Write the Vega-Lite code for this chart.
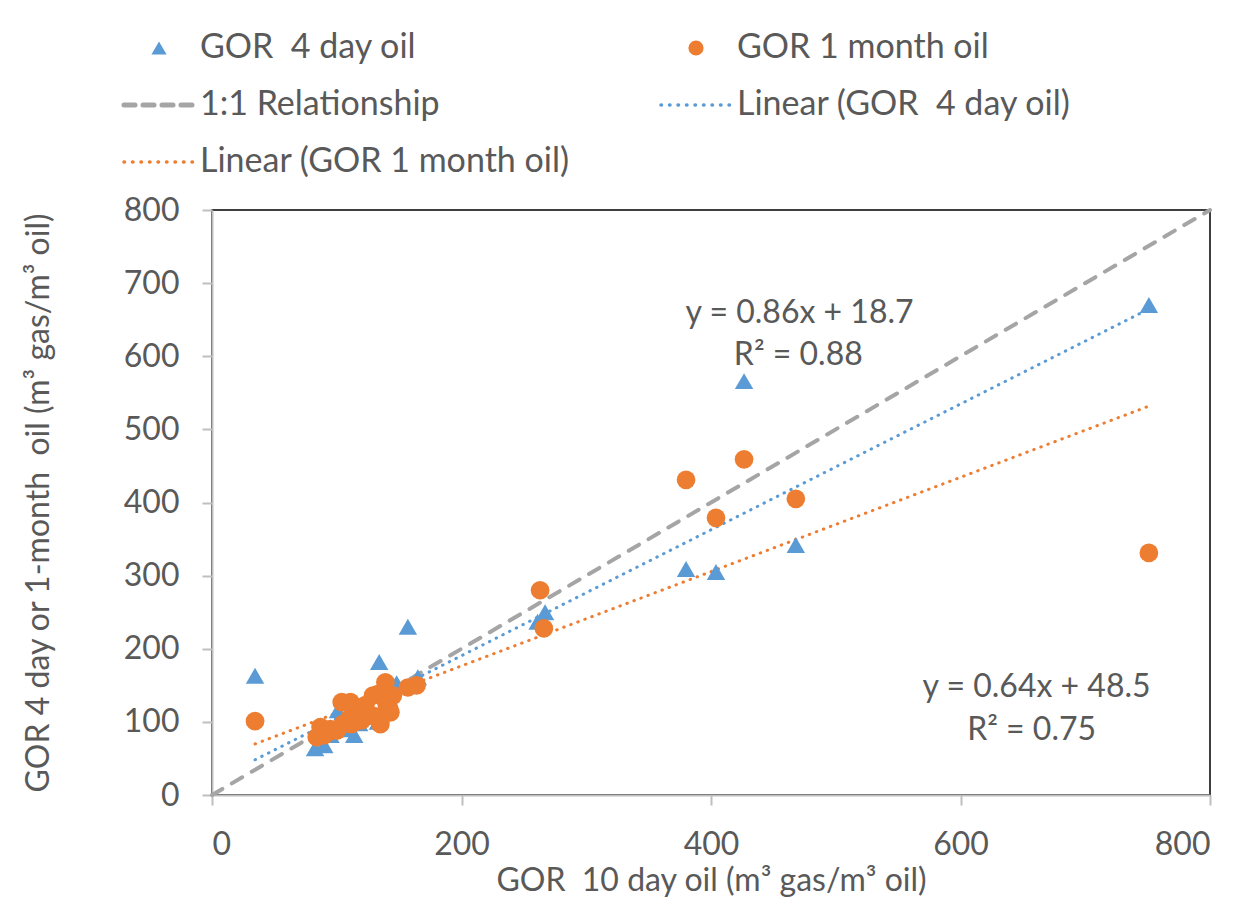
{
  "$schema": "https://vega.github.io/schema/vega-lite/v6.json",
  "width": 998,
  "height": 585,
  "autosize": {"type": "none"},
  "padding": {"left": 212, "top": 210, "right": 42, "bottom": 112},
  "background": "white",
  "config": {
    "font": "Lato",
    "view": {"stroke": "#000000", "strokeWidth": 1.5},
    "axis": {
      "domainColor": "#BFBFBF", "domainWidth": 2,
      "tickColor": "#BFBFBF", "tickWidth": 2, "tickSize": 10,
      "labelColor": "#595959", "labelFontSize": 32, "labelFont": "Lato",
      "titleColor": "#595959", "titleFontSize": 32, "titleFont": "Lato", "titleFontWeight": "normal",
      "grid": false
    }
  },
  "datasets": {
    "pts": [
      {"x": 34.5, "y": 163, "series": "GOR\u00a0 4 day oil", "fit": "Linear (GOR\u00a0 4 day oil)"},
      {"x": 426.5, "y": 566, "series": "GOR\u00a0 4 day oil", "fit": "Linear (GOR\u00a0 4 day oil)"},
      {"x": 751, "y": 670, "series": "GOR\u00a0 4 day oil", "fit": "Linear (GOR\u00a0 4 day oil)"},
      {"x": 380, "y": 309, "series": "GOR\u00a0 4 day oil", "fit": "Linear (GOR\u00a0 4 day oil)"},
      {"x": 404, "y": 305, "series": "GOR\u00a0 4 day oil", "fit": "Linear (GOR\u00a0 4 day oil)"},
      {"x": 468, "y": 342, "series": "GOR\u00a0 4 day oil", "fit": "Linear (GOR\u00a0 4 day oil)"},
      {"x": 267, "y": 250, "series": "GOR\u00a0 4 day oil", "fit": "Linear (GOR\u00a0 4 day oil)"},
      {"x": 261, "y": 237, "series": "GOR\u00a0 4 day oil", "fit": "Linear (GOR\u00a0 4 day oil)"},
      {"x": 157, "y": 230, "series": "GOR\u00a0 4 day oil", "fit": "Linear (GOR\u00a0 4 day oil)"},
      {"x": 134, "y": 182, "series": "GOR\u00a0 4 day oil", "fit": "Linear (GOR\u00a0 4 day oil)"},
      {"x": 165, "y": 161, "series": "GOR\u00a0 4 day oil", "fit": "Linear (GOR\u00a0 4 day oil)"},
      {"x": 82.6, "y": 64, "series": "GOR\u00a0 4 day oil", "fit": "Linear (GOR\u00a0 4 day oil)"},
      {"x": 90, "y": 68, "series": "GOR\u00a0 4 day oil", "fit": "Linear (GOR\u00a0 4 day oil)"},
      {"x": 114, "y": 82, "series": "GOR\u00a0 4 day oil", "fit": "Linear (GOR\u00a0 4 day oil)"},
      {"x": 135, "y": 109, "series": "GOR\u00a0 4 day oil", "fit": "Linear (GOR\u00a0 4 day oil)"},
      {"x": 101, "y": 116, "series": "GOR\u00a0 4 day oil", "fit": "Linear (GOR\u00a0 4 day oil)"},
      {"x": 145, "y": 150, "series": "GOR\u00a0 4 day oil", "fit": "Linear (GOR\u00a0 4 day oil)"},
      {"x": 87, "y": 89, "series": "GOR\u00a0 4 day oil", "fit": "Linear (GOR\u00a0 4 day oil)"},
      {"x": 148, "y": 153, "series": "GOR\u00a0 4 day oil", "fit": "Linear (GOR\u00a0 4 day oil)"},
      {"x": 133, "y": 100, "series": "GOR\u00a0 4 day oil", "fit": "Linear (GOR\u00a0 4 day oil)"},
      {"x": 105, "y": 96, "series": "GOR\u00a0 4 day oil", "fit": "Linear (GOR\u00a0 4 day oil)"},
      {"x": 120, "y": 118, "series": "GOR\u00a0 4 day oil", "fit": "Linear (GOR\u00a0 4 day oil)"},
      {"x": 95, "y": 82, "series": "GOR\u00a0 4 day oil", "fit": "Linear (GOR\u00a0 4 day oil)"},
      {"x": 108, "y": 90, "series": "GOR\u00a0 4 day oil", "fit": "Linear (GOR\u00a0 4 day oil)"},
      {"x": 118, "y": 98, "series": "GOR\u00a0 4 day oil", "fit": "Linear (GOR\u00a0 4 day oil)"},
      {"x": 125, "y": 107, "series": "GOR\u00a0 4 day oil", "fit": "Linear (GOR\u00a0 4 day oil)"},
      {"x": 110, "y": 92, "series": "GOR\u00a0 4 day oil", "fit": "Linear (GOR\u00a0 4 day oil)"},
      {"x": 34.5, "y": 101, "series": "GOR 1 month oil", "fit": "Linear (GOR 1 month oil)"},
      {"x": 380, "y": 431, "series": "GOR 1 month oil", "fit": "Linear (GOR 1 month oil)"},
      {"x": 426.5, "y": 459, "series": "GOR 1 month oil", "fit": "Linear (GOR 1 month oil)"},
      {"x": 404, "y": 379, "series": "GOR 1 month oil", "fit": "Linear (GOR 1 month oil)"},
      {"x": 468, "y": 405, "series": "GOR 1 month oil", "fit": "Linear (GOR 1 month oil)"},
      {"x": 751, "y": 331, "series": "GOR 1 month oil", "fit": "Linear (GOR 1 month oil)"},
      {"x": 263, "y": 280, "series": "GOR 1 month oil", "fit": "Linear (GOR 1 month oil)"},
      {"x": 266, "y": 228, "series": "GOR 1 month oil", "fit": "Linear (GOR 1 month oil)"},
      {"x": 84, "y": 79, "series": "GOR 1 month oil", "fit": "Linear (GOR 1 month oil)"},
      {"x": 87, "y": 93, "series": "GOR 1 month oil", "fit": "Linear (GOR 1 month oil)"},
      {"x": 95, "y": 90, "series": "GOR 1 month oil", "fit": "Linear (GOR 1 month oil)"},
      {"x": 104, "y": 127, "series": "GOR 1 month oil", "fit": "Linear (GOR 1 month oil)"},
      {"x": 111, "y": 127, "series": "GOR 1 month oil", "fit": "Linear (GOR 1 month oil)"},
      {"x": 105, "y": 97, "series": "GOR 1 month oil", "fit": "Linear (GOR 1 month oil)"},
      {"x": 123, "y": 123, "series": "GOR 1 month oil", "fit": "Linear (GOR 1 month oil)"},
      {"x": 129, "y": 136, "series": "GOR 1 month oil", "fit": "Linear (GOR 1 month oil)"},
      {"x": 133, "y": 138, "series": "GOR 1 month oil", "fit": "Linear (GOR 1 month oil)"},
      {"x": 139, "y": 154, "series": "GOR 1 month oil", "fit": "Linear (GOR 1 month oil)"},
      {"x": 135, "y": 97, "series": "GOR 1 month oil", "fit": "Linear (GOR 1 month oil)"},
      {"x": 143, "y": 113, "series": "GOR 1 month oil", "fit": "Linear (GOR 1 month oil)"},
      {"x": 140, "y": 124, "series": "GOR 1 month oil", "fit": "Linear (GOR 1 month oil)"},
      {"x": 157, "y": 147, "series": "GOR 1 month oil", "fit": "Linear (GOR 1 month oil)"},
      {"x": 164, "y": 150, "series": "GOR 1 month oil", "fit": "Linear (GOR 1 month oil)"},
      {"x": 145, "y": 136, "series": "GOR 1 month oil", "fit": "Linear (GOR 1 month oil)"},
      {"x": 116, "y": 109, "series": "GOR 1 month oil", "fit": "Linear (GOR 1 month oil)"},
      {"x": 92, "y": 85, "series": "GOR 1 month oil", "fit": "Linear (GOR 1 month oil)"},
      {"x": 110, "y": 104, "series": "GOR 1 month oil", "fit": "Linear (GOR 1 month oil)"},
      {"x": 90, "y": 82, "series": "GOR 1 month oil", "fit": "Linear (GOR 1 month oil)"},
      {"x": 100, "y": 88, "series": "GOR 1 month oil", "fit": "Linear (GOR 1 month oil)"},
      {"x": 112, "y": 97, "series": "GOR 1 month oil", "fit": "Linear (GOR 1 month oil)"},
      {"x": 120, "y": 102, "series": "GOR 1 month oil", "fit": "Linear (GOR 1 month oil)"},
      {"x": 130, "y": 108, "series": "GOR 1 month oil", "fit": "Linear (GOR 1 month oil)"},
      {"x": 142, "y": 118, "series": "GOR 1 month oil", "fit": "Linear (GOR 1 month oil)"}
    ],
    "oneToOne": [
      {"x": 0, "y": 0, "series": "1:1 Relationship"},
      {"x": 800, "y": 800, "series": "1:1 Relationship"}
    ],
    "notes": [
      {"x": 471, "y": 659, "label": "y = 0.86x + 18.7"},
      {"x": 470, "y": 602, "label": "R² = 0.88"},
      {"x": 661, "y": 148, "label": "y = 0.64x + 48.5"},
      {"x": 657, "y": 89, "label": "R² = 0.75"}
    ]
  },
  "layer": [
    {
      "data": {"name": "oneToOne"},
      "mark": {"type": "line", "strokeWidth": 4, "strokeDash": [12, 11], "strokeCap": "round"},
      "encoding": {
        "x": {"field": "x", "type": "quantitative", "scale": {"domain": [0, 800], "nice": false},
              "axis": {"values": [0, 200, 400, 600, 800], "title": "GOR\u00a0 10 day oil (m³ gas/m³ oil)", "labelPadding": 24, "titlePadding": 5}},
        "y": {"field": "y", "type": "quantitative", "scale": {"domain": [0, 800], "nice": false},
              "axis": {"values": [0, 100, 200, 300, 400, 500, 600, 700, 800], "title": "GOR 4 day or 1-month\u00a0 oil (m³ gas/m³ oil)", "labelPadding": 23, "titlePadding": 68}},
        "color": {
          "field": "series", "type": "nominal",
          "scale": {
            "domain": ["GOR\u00a0 4 day oil", "GOR 1 month oil", "1:1 Relationship", "Linear (GOR\u00a0 4 day oil)", "Linear (GOR 1 month oil)"],
            "range": ["#5B9BD5", "#ED7D31", "#A5A5A5", "#5B9BD5", "#ED7D31"]
          },
          "legend": {
            "title": null, "orient": "none", "legendX": -70, "legendY": -179,
            "direction": "horizontal",
            "columns": 2, "columnPadding": 84, "rowPadding": 23, "padding": 0,
            "labelFontSize": 34, "labelColor": "#595959", "labelFont": "Lato",
            "symbolSize": 2500, "labelOffset": 24, "labelLimit": 600,
            "encode": {
              "symbols": {
                "update": {
                  "shape": {"signal": "datum.index == 0 ? 'triangle-up' : datum.index == 1 ? 'circle' : 'stroke'"},
                  "size": {"signal": "datum.index < 2 ? 230 : 4900"},
                  "fill": {"signal": "datum.index == 0 ? '#5B9BD5' : datum.index == 1 ? '#ED7D31' : 'transparent'"},
                  "stroke": {"signal": "datum.index < 2 ? 'transparent' : datum.index == 2 ? '#A5A5A5' : datum.index == 3 ? '#5B9BD5' : '#ED7D31'"},
                  "strokeDash": {"signal": "datum.index == 2 ? [11, 8] : [0.5, 8]"},
                  "strokeWidth": {"signal": "datum.index < 2 ? 0 : datum.index == 2 ? 5 : 3.5"},
                  "strokeCap": {"value": "round"},
                  "opacity": {"value": 1}
                }
              }
            }
          }
        }
      }
    },
    {
      "data": {"name": "pts"},
      "transform": [{"regression": "y", "on": "x", "groupby": ["fit"]}],
      "mark": {"type": "line", "strokeWidth": 3, "strokeDash": [0.5, 7], "strokeCap": "round"},
      "encoding": {
        "x": {"field": "x", "type": "quantitative"},
        "y": {"field": "y", "type": "quantitative"},
        "color": {"field": "fit", "type": "nominal"}
      }
    },
    {
      "data": {"name": "pts"},
      "transform": [{"filter": "datum.series == 'GOR\u00a0 4 day oil'"}],
      "mark": {"type": "point", "shape": "triangle-up", "filled": true, "opacity": 1, "size": 340},
      "encoding": {
        "x": {"field": "x", "type": "quantitative"},
        "y": {"field": "y", "type": "quantitative"},
        "color": {"field": "series", "type": "nominal"}
      }
    },
    {
      "data": {"name": "pts"},
      "transform": [{"filter": "datum.series == 'GOR 1 month oil'"}],
      "mark": {"type": "point", "shape": "circle", "filled": true, "opacity": 1, "size": 350},
      "encoding": {
        "x": {"field": "x", "type": "quantitative"},
        "y": {"field": "y", "type": "quantitative"},
        "color": {"field": "series", "type": "nominal"}
      }
    },
    {
      "data": {"name": "notes"},
      "mark": {"type": "text", "fontSize": 32, "font": "Lato", "color": "#595959", "align": "center", "baseline": "middle"},
      "encoding": {
        "x": {"field": "x", "type": "quantitative"},
        "y": {"field": "y", "type": "quantitative"},
        "text": {"field": "label"}
      }
    }
  ]
}
